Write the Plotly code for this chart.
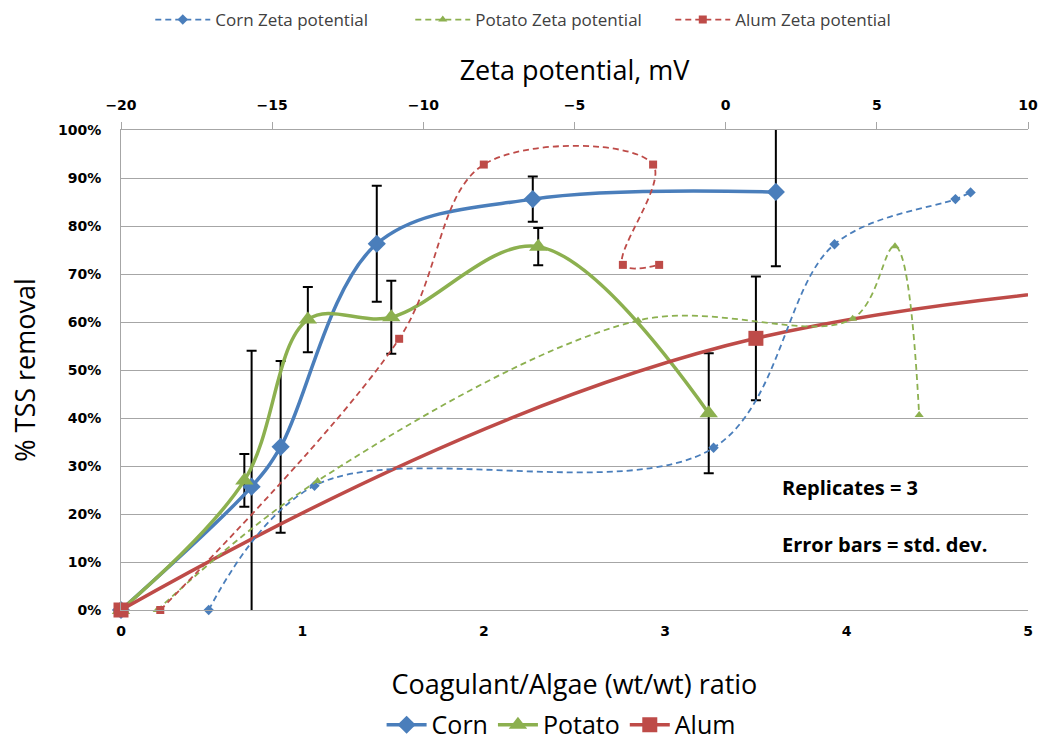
import plotly.graph_objects as go

# ---------------- data ----------------
# Main series: coagulant/algae ratio (wt/wt) vs % TSS removal (bottom x axis)
corn_ratio = [0, 0.72, 0.88, 1.41, 2.27, 3.61]
corn_tss = [0, 25.7, 34.0, 76.3, 85.6, 87.1]
corn_sd = [None, 28.3, 17.9, 12.1, 4.7, 15.5]

potato_ratio = [0, 0.68, 1.03, 1.49, 2.30, 3.24]
potato_tss = [0, 27.0, 60.5, 61.0, 75.7, 41.0]
potato_sd = [None, 5.5, 6.8, 7.6, 3.9, 12.5]

alum_ratio = [0, 3.50, 12.0]        # last dose lies beyond the visible axis range
alum_tss = [0, 56.6, 75.0]
alum_sd = [None, 12.9, None]

# Zeta potential series (top x axis, mV)
corn_zeta = [-17.1, -13.6, -0.4, 3.6, 7.6, 8.1]
corn_zeta_tss = [0, 25.9, 33.8, 76.2, 85.6, 87.0]

potato_zeta = [-18.8, -13.5, -2.9, 4.2, 5.6, 6.4]
potato_zeta_tss = [0, 26.9, 60.3, 60.7, 75.8, 40.6]

alum_zeta = [-18.7, -10.8, -8.0, -2.4, -3.4, -2.2]
alum_zeta_tss = [0, 56.5, 92.8, 92.8, 71.9, 71.9]

BLUE = "#4A7EBB"
GREEN = "#8CB04F"
RED = "#BE4B48"
GRID = "#A6A6A6"

fig = go.Figure()

# dashed zeta-potential series (top axis)
for name, xs, ys, col, sym in [
    ("Corn Zeta potential", corn_zeta, corn_zeta_tss, BLUE, "diamond"),
    ("Potato Zeta potential", potato_zeta, potato_zeta_tss, GREEN, "triangle-up"),
    ("Alum Zeta potential", alum_zeta, alum_zeta_tss, RED, "square"),
]:
    fig.add_trace(go.Scatter(
        x=xs, y=ys, name=name, xaxis="x2", yaxis="y",
        mode="lines+markers",
        line=dict(color=col, width=1.8, dash="6px,4px", shape="spline", smoothing=1),
        marker=dict(symbol=sym, size=8, color=col),
        cliponaxis=False, legend="legend",
    ))

# error bars (clipped to plot area)
for xs, ys, sd in [(corn_ratio, corn_tss, corn_sd),
                   (potato_ratio, potato_tss, potato_sd),
                   (alum_ratio, alum_tss, alum_sd)]:
    fig.add_trace(go.Scatter(
        x=xs, y=ys, mode="markers", showlegend=False, hoverinfo="skip",
        marker=dict(size=1, opacity=0),
        error_y=dict(type="data", array=sd, symmetric=True,
                     color="black", thickness=2, width=5),
        cliponaxis=True,
    ))

# main series (bottom axis)
for name, xs, ys, col, sym, sz in [
    ("Corn", corn_ratio, corn_tss, BLUE, "diamond", 14),
    ("Potato", potato_ratio, potato_tss, GREEN, "triangle-up", 16),
    ("Alum", alum_ratio, alum_tss, RED, "square", 15),
]:
    fig.add_trace(go.Scatter(
        x=xs, y=ys, name=name, mode="lines+markers",
        line=dict(color=col, width=3.5, shape="spline", smoothing=1),
        marker=dict(symbol=sym, size=sz, color=col),
        cliponaxis=False, legend="legend2",
    ))

tickfont = dict(family="DejaVu Sans", size=14, color="black", weight="bold")
titlefont = dict(family="Open Sans", size=27, color="black")

fig.update_layout(
    width=1041, height=740,
    margin=dict(l=121, r=13, t=130, b=130, autoexpand=False),
    paper_bgcolor="white", plot_bgcolor="white",
    font=dict(family="Open Sans", color="black"),
    xaxis=dict(
        range=[0, 5], dtick=1, tick0=0, showgrid=False, zeroline=False,
        showline=True, linecolor=GRID, linewidth=1, ticks="", automargin=False,
        tickfont=tickfont, ticklabelstandoff=8,
        title=dict(text="Coagulant/Algae (wt/wt) ratio", font=titlefont, standoff=45),
    ),
    xaxis2=dict(
        range=[-20, 10], dtick=5, tick0=-20, overlaying="x", side="top",
        showgrid=False, zeroline=False, showline=True, linecolor=GRID, linewidth=1,
        ticks="outside", ticklen=7, tickcolor=GRID, automargin=False,
        tickfont=tickfont, ticklabelstandoff=6,
        title=dict(text="Zeta potential, mV", font=titlefont, standoff=8),
    ),
    yaxis=dict(
        range=[0, 100], dtick=10, tick0=0, ticksuffix="%",
        showgrid=True, gridcolor=GRID, gridwidth=1, zeroline=False,
        showline=True, linecolor=GRID, linewidth=1, ticks="", automargin=False,
        tickfont=tickfont, ticklabelstandoff=16,
        title=dict(text="% TSS removal", font=titlefont, standoff=14),
    ),
    legend=dict(
        orientation="h", xref="container", yref="container",
        x=0.519, xanchor="center", y=0.973, yanchor="middle",
        font=dict(family="Open Sans", size=17, color="#404040"),
        itemwidth=55, entrywidth=190, bgcolor="rgba(0,0,0,0)",
    ),
    legend2=dict(
        orientation="h", xref="container", yref="container",
        x=0.539, xanchor="center", y=0.0203, yanchor="middle",
        font=dict(family="Open Sans", size=25, color="black"),
        itemwidth=40, bgcolor="rgba(0,0,0,0)",
    ),
    annotations=[
        dict(x=3.633, y=25.6, xref="x", yref="y", text="Replicates = 3",
             showarrow=False, xanchor="left", yanchor="middle",
             font=dict(family="Open Sans", size=20, color="black", weight="bold")),
        dict(x=3.633, y=13.6, xref="x", yref="y", text="Error bars = std. dev.",
             showarrow=False, xanchor="left", yanchor="middle",
             font=dict(family="Open Sans", size=20, color="black", weight="bold")),
    ],
)

fig.write_html("out.html")
